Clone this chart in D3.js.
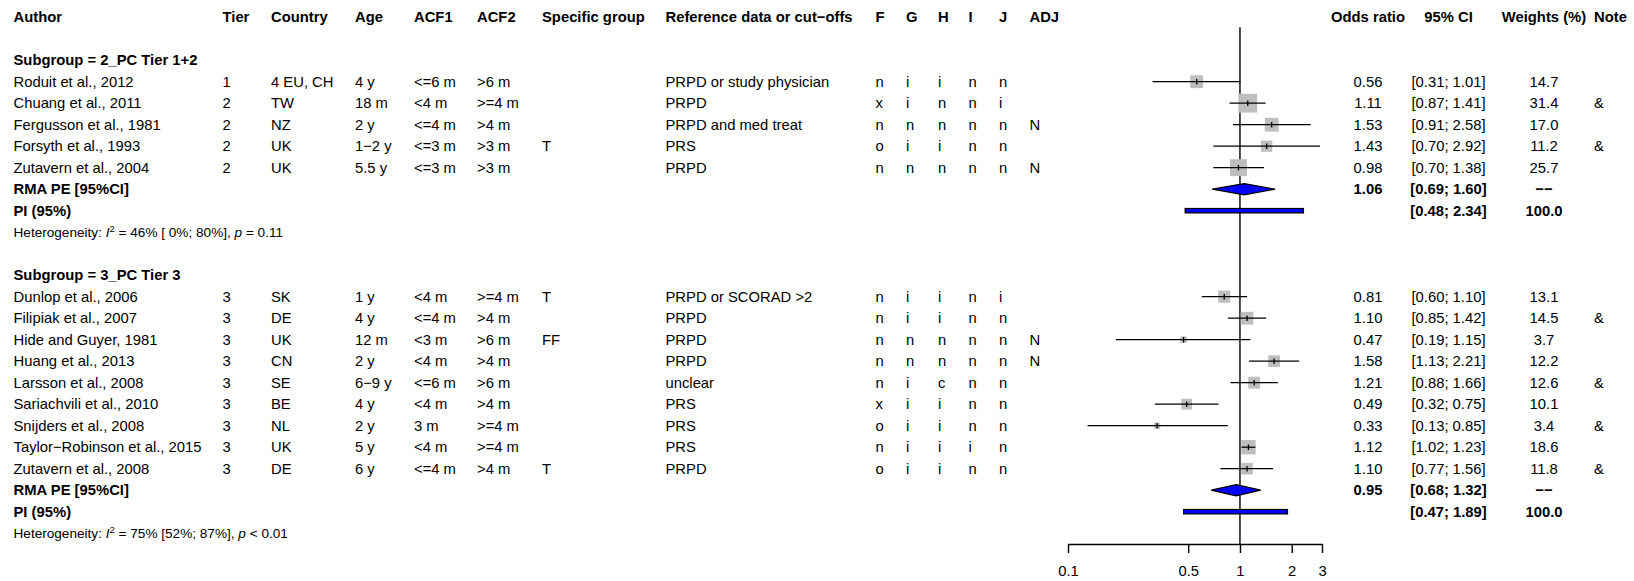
<!DOCTYPE html>
<html>
<head>
<meta charset="utf-8">
<script src="https://cdn.jsdelivr.net/npm/d3@7"></script>
<style>
  html, body { margin: 0; padding: 0; background: #fff; }
  svg { display: block; font-family: "Liberation Sans", Arial, Helvetica, sans-serif; }
</style>
</head>
<body>
<svg id="chart" width="1634" height="581"></svg>
<script>
// ---- Study-level data (drawing order) ----
const subgroupOf = [0, 0, 0, 0, 0, 1, 1, 1, 1, 1, 1, 1, 1, 1];
const authors = ["Roduit et al., 2012", "Chuang et al., 2011", "Fergusson et al., 1981", "Forsyth et al., 1993", "Zutavern et al., 2004",
  "Dunlop et al., 2006", "Filipiak et al., 2007", "Hide and Guyer, 1981", "Huang et al., 2013", "Larsson et al., 2008",
  "Sariachvili et al., 2010", "Snijders et al., 2008", "Taylor\u2212Robinson et al., 2015", "Zutavern et al., 2008"];
const tiers = ["1", "2", "2", "2", "2", "3", "3", "3", "3", "3", "3", "3", "3", "3"];
const countries = ["4 EU, CH", "TW", "NZ", "UK", "UK", "SK", "DE", "UK", "CN", "SE", "BE", "NL", "UK", "DE"];
const ages = ["4 y", "18 m", "2 y", "1\u22122 y", "5.5 y", "1 y", "4 y", "12 m", "2 y", "6\u22129 y", "4 y", "2 y", "5 y", "6 y"];
const acf1 = ["<=6 m", "<4 m", "<=4 m", "<=3 m", "<=3 m", "<4 m", "<=4 m", "<3 m", "<4 m", "<=6 m", "<4 m", "3 m", "<4 m", "<=4 m"];
const acf2 = [">6 m", ">=4 m", ">4 m", ">3 m", ">3 m", ">=4 m", ">4 m", ">6 m", ">4 m", ">6 m", ">4 m", ">=4 m", ">=4 m", ">4 m"];
const specificGroup = ["", "", "", "T", "", "T", "", "FF", "", "", "", "", "", "T"];
const referenceData = ["PRPD or study physician", "PRPD", "PRPD and med treat", "PRS", "PRPD",
  "PRPD or SCORAD >2", "PRPD", "PRPD", "PRPD", "unclear", "PRS", "PRS", "PRS", "PRPD"];
const colF = ["n", "x", "n", "o", "n", "n", "n", "n", "n", "n", "x", "o", "n", "o"];
const colG = ["i", "i", "n", "i", "n", "i", "i", "n", "n", "i", "i", "i", "i", "i"];
const colH = ["i", "n", "n", "i", "n", "i", "i", "n", "n", "c", "i", "i", "i", "i"];
const colI = ["n", "n", "n", "n", "n", "n", "n", "n", "n", "n", "n", "n", "i", "n"];
const colJ = ["n", "i", "n", "n", "n", "i", "n", "n", "n", "n", "n", "n", "n", "n"];
const adj = ["", "", "N", "", "N", "", "", "N", "N", "", "", "", "", ""];
const oddsRatio = [0.56, 1.11, 1.53, 1.43, 0.98, 0.81, 1.10, 0.47, 1.58, 1.21, 0.49, 0.33, 1.12, 1.10];
const ciLower = [0.31, 0.87, 0.91, 0.70, 0.70, 0.60, 0.85, 0.19, 1.13, 0.88, 0.32, 0.13, 1.02, 0.77];
const ciUpper = [1.01, 1.41, 2.58, 2.92, 1.38, 1.10, 1.42, 1.15, 2.21, 1.66, 0.75, 0.85, 1.23, 1.56];
const weights = [14.7, 31.4, 17.0, 11.2, 25.7, 13.1, 14.5, 3.7, 12.2, 12.6, 10.1, 3.4, 18.6, 11.8];
const notes = ["", "&", "", "&", "", "", "&", "", "", "&", "", "&", "", "&"];

// ---- Subgroup summaries ----
const subgroupLabels = ["Subgroup = 2_PC Tier 1+2", "Subgroup = 3_PC Tier 3"];
const pooledOR = [1.06, 0.95];
const pooledLower = [0.69, 0.68];
const pooledUpper = [1.60, 1.32];
const piLower = [0.48, 0.47];
const piUpper = [2.34, 1.89];
const hetI2 = ["46%", "75%"];
const hetI2CI = ["[ 0%; 80%]", "[52%; 87%]"];
const hetP = ["= 0.11", "< 0.01"];

// ---- Column headers and axis ticks ----
const leftHeaders = ["Author", "Tier", "Country", "Age", "ACF1", "ACF2", "Specific group",
  "Reference data or cut\u2212offs", "F", "G", "H", "I", "J", "ADJ"];
const rightHeaders = ["Odds ratio", "95% CI", "Weights (%)", "Note"];
const xTicks = [0.1, 0.5, 1, 2, 3];

// ---- Layout ----
const FS = 14.8;
const FS_HET = 13.6;
const leftX = [13.5, 222.5, 271, 355, 414, 477, 542, 665.5, 875.5, 906, 938, 968.5, 999, 1029.5];
const rightX = [1368, 1448.5, 1544, 1594];
const rightAnchor = ["middle", "middle", "middle", "start"];

const svg = d3.select("#chart");
const rowY = d3.scaleLinear().domain([0, 21]).range([60.2, 511.7]);
const x = d3.scaleLog().domain([0.1, 3]).range([1068, 1322]);
const fmt2 = d3.format(".2f");
const fmt1 = d3.format(".1f");
const ciText = (lo, hi) => `[${fmt2(lo)}; ${fmt2(hi)}]`;

// Assign row indices: subgroup label, studies, pooled estimate, PI, heterogeneity, blank
const studyRow = [];
const groupRows = [];
let r = 0;
subgroupLabels.forEach((lab, g) => {
  const header = r++;
  authors.forEach((a, i) => { if (subgroupOf[i] === g) studyRow[i] = r++; });
  groupRows.push({ header, pooled: r, pi: r + 1, het: r + 2 });
  r += 4;
});

function txt(xp, yp, s, opts = {}) {
  return svg.append("text")
    .attr("x", xp).attr("y", yp).attr("dy", "0.35em")
    .attr("font-size", opts.size || FS)
    .attr("font-weight", opts.bold ? "bold" : "normal")
    .attr("text-anchor", opts.anchor || "start")
    .attr("fill", "#000")
    .text(s);
}

// Headers
const headerY = rowY(-2);
leftHeaders.forEach((h, j) => txt(leftX[j], headerY, h, { bold: true }));
rightHeaders.forEach((h, j) => txt(rightX[j], headerY, h, { bold: true, anchor: rightAnchor[j] }));

// Study text rows
const leftCols = [authors, tiers, countries, ages, acf1, acf2, specificGroup, referenceData, colF, colG, colH, colI, colJ, adj];
authors.forEach((a, i) => {
  const y = rowY(studyRow[i]);
  leftCols.forEach((col, j) => { if (col[i]) txt(leftX[j], y, col[i]); });
  txt(rightX[0], y, fmt2(oddsRatio[i]), { anchor: "middle" });
  txt(rightX[1], y, ciText(ciLower[i], ciUpper[i]), { anchor: "middle" });
  txt(rightX[2], y, fmt1(weights[i]), { anchor: "middle" });
  if (notes[i]) txt(rightX[3], y, notes[i]);
});

// Subgroup labels, pooled rows, heterogeneity
groupRows.forEach((gr, g) => {
  txt(leftX[0], rowY(gr.header), subgroupLabels[g], { bold: true });
  const yP = rowY(gr.pooled), yPI = rowY(gr.pi), yH = rowY(gr.het);
  txt(leftX[0], yP, "RMA PE [95%CI]", { bold: true });
  txt(leftX[0], yPI, "PI (95%)", { bold: true });
  txt(rightX[0], yP, fmt2(pooledOR[g]), { bold: true, anchor: "middle" });
  txt(rightX[1], yP, ciText(pooledLower[g], pooledUpper[g]), { bold: true, anchor: "middle" });
  txt(rightX[2], yP, "\u2212\u2212", { bold: true, anchor: "middle" });
  txt(rightX[1], yPI, ciText(piLower[g], piUpper[g]), { bold: true, anchor: "middle" });
  txt(rightX[2], yPI, fmt1(d3.sum(weights.filter((w, i) => subgroupOf[i] === g))), { bold: true, anchor: "middle" });

  const t = txt(leftX[0], yH, "", { size: FS_HET });
  t.append("tspan").text("Heterogeneity: ");
  t.append("tspan").attr("font-style", "italic").text("I");
  t.append("tspan").attr("font-size", FS_HET * 0.7).attr("dy", "-0.55em").text("2");
  t.append("tspan").attr("dy", "0.385em").text(` = ${hetI2[g]} ${hetI2CI[g]}, `);
  t.append("tspan").attr("font-style", "italic").text("p");
  t.append("tspan").text(` ${hetP[g]}`);
});

// ---- Forest plot ----
const plot = svg.append("g");
const axisY = rowY(22.5);

// Reference line at OR = 1
plot.append("line")
  .attr("x1", x(1)).attr("x2", x(1))
  .attr("y1", rowY(-1.53)).attr("y2", axisY)
  .attr("stroke", "#000").attr("stroke-width", 1.4);

// Study squares, confidence intervals and point ticks
const sqK = 3.35;
authors.forEach((a, i) => {
  const y = rowY(studyRow[i]);
  const s = sqK * Math.sqrt(weights[i]);
  plot.append("rect")
    .attr("x", x(oddsRatio[i]) - s / 2).attr("y", y - s / 2)
    .attr("width", s).attr("height", s)
    .attr("fill", "#bebebe");
  plot.append("line")
    .attr("x1", x(ciLower[i])).attr("x2", x(ciUpper[i]))
    .attr("y1", y).attr("y2", y)
    .attr("stroke", "#000").attr("stroke-width", 1.3);
  plot.append("line")
    .attr("x1", x(oddsRatio[i])).attr("x2", x(oddsRatio[i]))
    .attr("y1", y - 2.8).attr("y2", y + 2.8)
    .attr("stroke", "#000").attr("stroke-width", 1.3);
});

// Pooled diamonds and prediction intervals
groupRows.forEach((gr, g) => {
  const yP = rowY(gr.pooled), yPI = rowY(gr.pi);
  const h = 5.6;
  plot.append("polygon")
    .attr("points", [
      [x(pooledLower[g]), yP], [x(pooledOR[g]), yP - h],
      [x(pooledUpper[g]), yP], [x(pooledOR[g]), yP + h]
    ].map(p => p.join(",")).join(" "))
    .attr("fill", "#0000ff").attr("stroke", "#000").attr("stroke-width", 1.2);
  plot.append("rect")
    .attr("x", x(piLower[g])).attr("y", yPI - 2.2)
    .attr("width", x(piUpper[g]) - x(piLower[g])).attr("height", 4.4)
    .attr("fill", "#0000ff").attr("stroke", "#000").attr("stroke-width", 1.2);
});

// Axis
const axis = d3.axisBottom(x)
  .tickValues(xTicks)
  .tickFormat(d => String(d))
  .tickSize(9)
  .tickSizeOuter(0)
  .tickPadding(13);
const ag = plot.append("g").attr("transform", `translate(0,${axisY})`).call(axis);
ag.select(".domain").attr("stroke", "#000").attr("stroke-width", 1.4);
ag.selectAll(".tick line").attr("stroke", "#000").attr("stroke-width", 1.4);
ag.selectAll(".tick text")
  .attr("font-size", FS)
  .attr("font-family", "\"Liberation Sans\", Arial, Helvetica, sans-serif")
  .attr("fill", "#000");
</script>
</body>
</html>
